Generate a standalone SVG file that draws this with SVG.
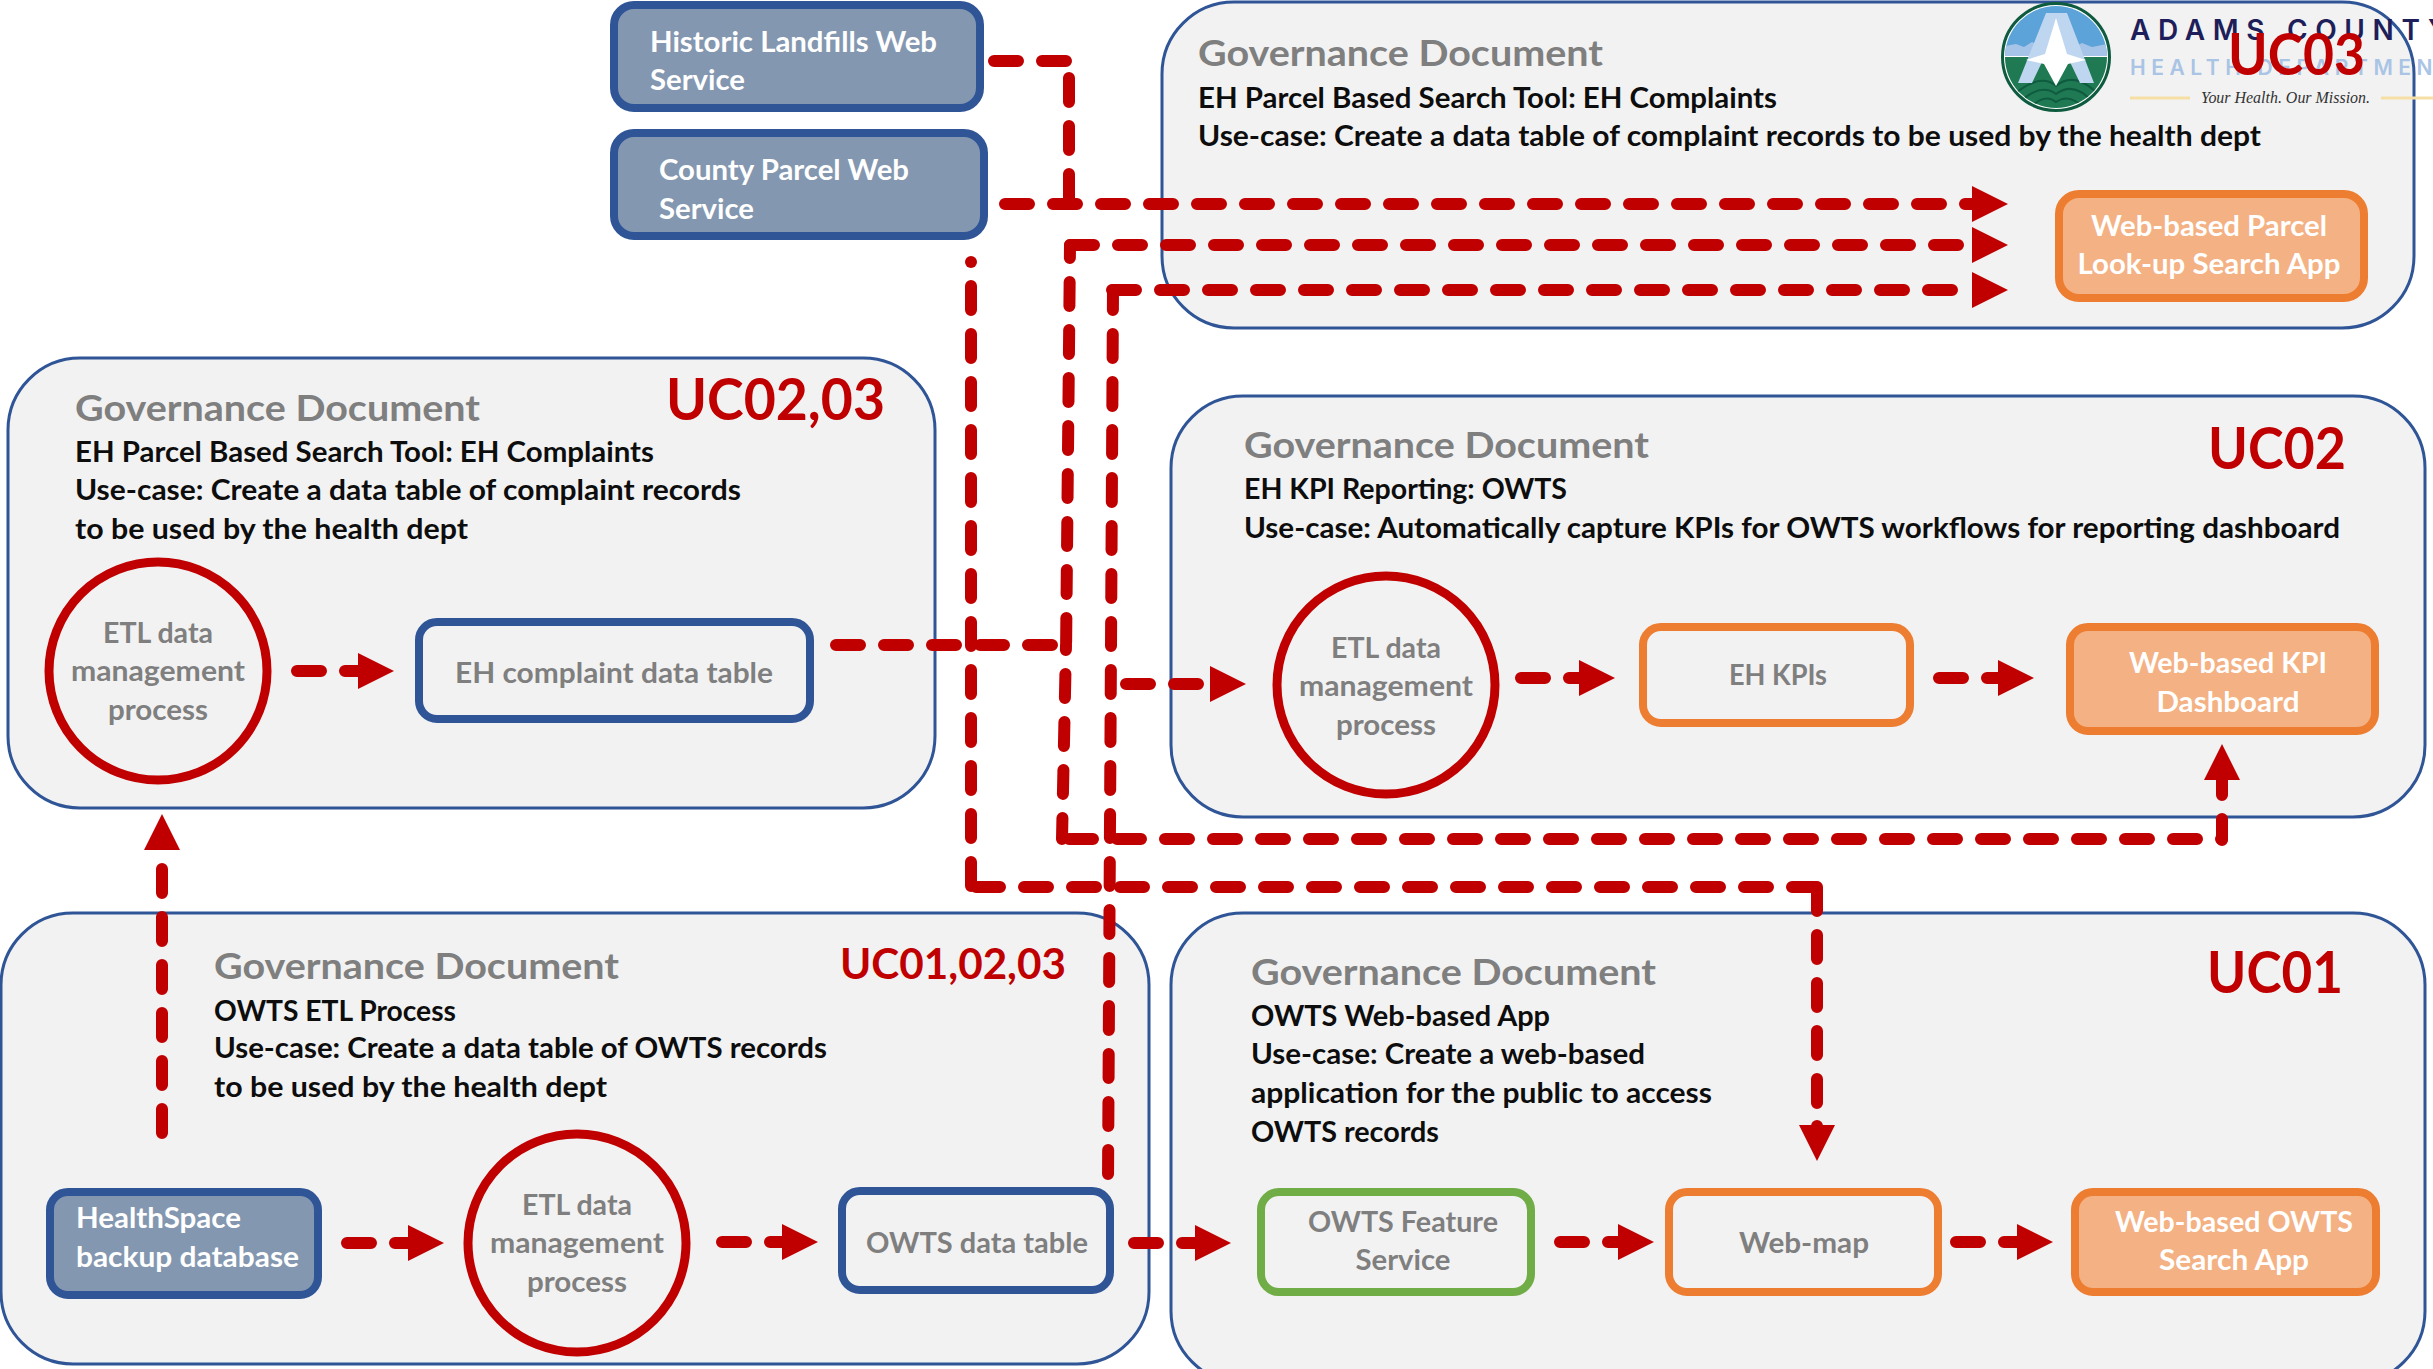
<svg xmlns="http://www.w3.org/2000/svg" width="2433" height="1369" viewBox="0 0 2433 1369">
<style>
text{font-family:Lato,"Open Sans","Liberation Sans",sans-serif;font-weight:700}
.panel{fill:#F2F2F2;stroke:#2F5597;stroke-width:3}
.h{font-size:36px;fill:#7F7F7F}
.b{font-size:28.5px;fill:#0D0D0D}
.uc{fill:#C00000}
.g{font-size:28.5px;fill:#7F7F7F;text-anchor:middle}
.w{font-size:28.5px;fill:#fff}
.wm{font-size:28.5px;fill:#fff;text-anchor:middle}
.src{fill:#8497B0;stroke:#2F5597;stroke-width:8}
.out{fill:#F4B183;stroke:#ED7D31;stroke-width:8}
.blue{fill:#F2F2F2;stroke:#2F5597;stroke-width:8}
.org{fill:#F2F2F2;stroke:#ED7D31;stroke-width:8}
.grn{fill:#F2F2F2;stroke:#70AD47;stroke-width:8}
.etl{fill:none;stroke:#C00000;stroke-width:9}
.c{fill:none;stroke:#C00000;stroke-width:12;stroke-linecap:round;stroke-linejoin:round;stroke-dasharray:24 24}
.a{marker-end:url(#arr)}
.lg{font-family:Inter,"Liberation Sans",sans-serif;font-weight:600;fill:#1E1E5A}
</style>
<defs>
<marker id="arr" markerUnits="userSpaceOnUse" markerWidth="36" markerHeight="36" viewBox="0 0 36 36" refX="0" refY="18" orient="auto"><path d="M0 0L36 18L0 36Z" fill="#C00000"/></marker>
<clipPath id="lc"><circle cx="2056" cy="57" r="51"/></clipPath>
</defs>

<g id="panel-uc03"><rect class="panel" x="1162" y="2" width="1252" height="326" rx="72"/>
<text class="h" x="1198" y="66" textLength="405" lengthAdjust="spacingAndGlyphs">Governance Document</text>
<text class="b" x="1198" y="108" textLength="579" lengthAdjust="spacingAndGlyphs">EH Parcel Based Search Tool: EH Complaints</text>
<text class="b" x="1198" y="146" textLength="1063" lengthAdjust="spacingAndGlyphs">Use-case: Create a data table of complaint records to be used by the health dept</text></g>
<g id="logo">
<circle cx="2056" cy="57" r="53.5" fill="#fff" stroke="#0F5B3F" stroke-width="3"/>
<g clip-path="url(#lc)"><rect x="2005" y="6" width="102" height="50" fill="#5BA3D9"/><path d="M2005 56V46L2016 44L2024 47L2032 42L2044 48L2056 46L2072 48L2082 43L2092 47L2107 44V56Z" fill="#A6C4E8"/><rect x="2005" y="57" width="102" height="52" fill="#1F7A54"/><path d="M2012 96Q2040 72 2056 86Q2075 70 2100 96M2018 104Q2040 82 2056 94Q2075 80 2094 104M2028 110Q2044 92 2056 102Q2070 92 2086 110" fill="none" stroke="#0F5B3F" stroke-width="2"/></g>
<path d="M2046 13H2067L2094 83H2080L2070 62H2042L2032 83H2018Z" fill="#BFD6F0"/><path d="M2056 18L2067 54L2086 60L2068 64L2056 86L2044 64L2026 60L2045 54Z" fill="#fff"/>
<text class="lg" x="2130" y="40" font-size="28" textLength="318">ADAMS COUNTY</text>
<text class="lg" x="2130" y="75" font-size="21" textLength="322" style="fill:#A9C4E4">HEALTH DEPARTMENT</text>
<path d="M2130 98H2190M2381 98H2433" stroke="#F5DFA5" stroke-width="3"/>
<text x="2201" y="103" font-size="16" textLength="169" lengthAdjust="spacingAndGlyphs" style="fill:#333;font-family:'Liberation Serif',serif;font-style:italic;font-weight:400">Your Health. Our Mission.</text>
</g>
<text class="uc" x="2228" y="75" font-size="58" textLength="137" lengthAdjust="spacingAndGlyphs">UC03</text>

<g id="panel-uc0203"><rect class="panel" x="8" y="358" width="927" height="450" rx="72"/>
<text class="h" x="75" y="421" textLength="405" lengthAdjust="spacingAndGlyphs">Governance Document</text>
<text class="b" x="75" y="462" textLength="579" lengthAdjust="spacingAndGlyphs">EH Parcel Based Search Tool: EH Complaints</text>
<text class="b" x="75" y="500" textLength="666" lengthAdjust="spacingAndGlyphs">Use-case: Create a data table of complaint records</text>
<text class="b" x="75" y="539" textLength="393" lengthAdjust="spacingAndGlyphs">to be used by the health dept</text>
<text class="uc" x="666" y="420" font-size="58" textLength="219" lengthAdjust="spacingAndGlyphs">UC02,03</text></g>
<g id="panel-uc02"><rect class="panel" x="1171" y="396" width="1254" height="421" rx="72"/>
<text class="h" x="1244" y="458" textLength="405" lengthAdjust="spacingAndGlyphs">Governance Document</text>
<text class="b" x="1244" y="499" textLength="323" lengthAdjust="spacingAndGlyphs">EH KPI Reporting: OWTS</text>
<text class="b" x="1244" y="538" textLength="1096" lengthAdjust="spacingAndGlyphs">Use-case: Automatically capture KPIs for OWTS workflows for reporting dashboard</text>
<text class="uc" x="2208" y="469" font-size="58" textLength="138" lengthAdjust="spacingAndGlyphs">UC02</text></g>
<g id="panel-uc010203"><rect class="panel" x="1" y="913" width="1148" height="451" rx="72"/>
<text class="h" x="214" y="979" textLength="405" lengthAdjust="spacingAndGlyphs">Governance Document</text>
<text class="b" x="214" y="1021" textLength="242" lengthAdjust="spacingAndGlyphs">OWTS ETL Process</text>
<text class="b" x="214" y="1058" textLength="613" lengthAdjust="spacingAndGlyphs">Use-case: Create a data table of OWTS records</text>
<text class="b" x="214" y="1097" textLength="393" lengthAdjust="spacingAndGlyphs">to be used by the health dept</text>
<text class="uc" x="840" y="979" font-size="42" textLength="226" lengthAdjust="spacingAndGlyphs">UC01,02,03</text></g>
<g id="panel-uc01"><rect class="panel" x="1171" y="913" width="1254" height="470" rx="72"/>
<text class="h" x="1251" y="985" textLength="405" lengthAdjust="spacingAndGlyphs">Governance Document</text>
<text class="b" x="1251" y="1026" textLength="299" lengthAdjust="spacingAndGlyphs">OWTS Web-based App</text>
<text class="b" x="1251" y="1064" textLength="394" lengthAdjust="spacingAndGlyphs">Use-case: Create a web-based</text>
<text class="b" x="1251" y="1103" textLength="461" lengthAdjust="spacingAndGlyphs">application for the public to access</text>
<text class="b" x="1251" y="1142" textLength="188" lengthAdjust="spacingAndGlyphs">OWTS records</text>
<text class="uc" x="2207" y="993" font-size="58" textLength="136" lengthAdjust="spacingAndGlyphs">UC01</text></g>

<g id="historic-landfills"><rect class="src" x="614" y="5" width="366" height="103" rx="20"/>
<text class="w" x="650" y="52" textLength="287" lengthAdjust="spacingAndGlyphs">Historic Landfills Web</text><text class="w" x="650" y="90" textLength="95" lengthAdjust="spacingAndGlyphs">Service</text></g>
<g id="county-parcel"><rect class="src" x="614" y="133" width="370" height="103" rx="20"/>
<text class="w" x="659" y="180" textLength="250" lengthAdjust="spacingAndGlyphs">County Parcel Web</text><text class="w" x="659" y="219" textLength="95" lengthAdjust="spacingAndGlyphs">Service</text></g>
<g id="parcel-app"><rect class="out" x="2059" y="194" width="305" height="104" rx="20"/>
<text class="wm" x="2209" y="236" textLength="236" lengthAdjust="spacingAndGlyphs">Web-based Parcel</text><text class="wm" x="2209" y="274" textLength="263" lengthAdjust="spacingAndGlyphs">Look-up Search App</text></g>

<g id="etl-uc0203"><circle class="etl" cx="158" cy="671" r="109"/>
<text class="g" x="158" y="643" textLength="110" lengthAdjust="spacingAndGlyphs">ETL data</text><text class="g" x="158" y="681" textLength="174" lengthAdjust="spacingAndGlyphs">management</text><text class="g" x="158" y="720" textLength="100" lengthAdjust="spacingAndGlyphs">process</text></g>
<g id="eh-complaint"><rect class="blue" x="419" y="622" width="391" height="97" rx="18"/>
<text class="g" x="614" y="683" textLength="318" lengthAdjust="spacingAndGlyphs">EH complaint data table</text></g>

<g id="etl-uc02"><circle class="etl" cx="1386" cy="685" r="109"/>
<text class="g" x="1386" y="658" textLength="110" lengthAdjust="spacingAndGlyphs">ETL data</text><text class="g" x="1386" y="696" textLength="174" lengthAdjust="spacingAndGlyphs">management</text><text class="g" x="1386" y="735" textLength="100" lengthAdjust="spacingAndGlyphs">process</text></g>
<g id="eh-kpis"><rect class="org" x="1643" y="627" width="267" height="96" rx="18"/>
<text class="g" x="1778" y="685" textLength="98" lengthAdjust="spacingAndGlyphs">EH KPIs</text></g>
<g id="kpi-dashboard"><rect class="out" x="2070" y="627" width="305" height="104" rx="18"/>
<text class="wm" x="2228" y="673" textLength="198" lengthAdjust="spacingAndGlyphs">Web-based KPI</text><text class="wm" x="2228" y="712" textLength="143" lengthAdjust="spacingAndGlyphs">Dashboard</text></g>

<g id="healthspace"><rect class="src" x="50" y="1192" width="268" height="103" rx="18"/>
<text class="w" x="76" y="1228" textLength="165" lengthAdjust="spacingAndGlyphs">HealthSpace</text><text class="w" x="76" y="1267" textLength="223" lengthAdjust="spacingAndGlyphs">backup database</text></g>
<g id="etl-uc010203"><circle class="etl" cx="577" cy="1243" r="109"/>
<text class="g" x="577" y="1215" textLength="110" lengthAdjust="spacingAndGlyphs">ETL data</text><text class="g" x="577" y="1253" textLength="174" lengthAdjust="spacingAndGlyphs">management</text><text class="g" x="577" y="1292" textLength="100" lengthAdjust="spacingAndGlyphs">process</text></g>
<g id="owts-table"><rect class="blue" x="842" y="1191" width="268" height="99" rx="18"/>
<text class="g" x="977" y="1253" textLength="222" lengthAdjust="spacingAndGlyphs">OWTS data table</text></g>
<g id="owts-feature"><rect class="grn" x="1261" y="1192" width="270" height="100" rx="18"/>
<text class="g" x="1403" y="1232" textLength="190" lengthAdjust="spacingAndGlyphs">OWTS Feature</text><text class="g" x="1403" y="1270" textLength="95" lengthAdjust="spacingAndGlyphs">Service</text></g>
<g id="web-map"><rect class="org" x="1669" y="1192" width="269" height="100" rx="18"/>
<text class="g" x="1804" y="1253" textLength="130" lengthAdjust="spacingAndGlyphs">Web-map</text></g>
<g id="owts-app"><rect class="out" x="2075" y="1192" width="301" height="100" rx="18"/>
<text class="wm" x="2234" y="1232" textLength="238" lengthAdjust="spacingAndGlyphs">Web-based OWTS</text><text class="wm" x="2234" y="1270" textLength="150" lengthAdjust="spacingAndGlyphs">Search App</text></g>

<g id="connectors">
<path class="c" d="M994 61H1069"/>
<path class="c" d="M1069 78V204"/>
<path class="c a" d="M1005 204H1972"/>
<path class="c" d="M1070 245L1066 655" stroke-dashoffset="11"/>
<path class="c a" d="M1070 245H1972"/>
<path class="c" d="M1066 645L1062 839" stroke-dashoffset="19"/>
<path class="c a" d="M1112 290H1972"/>
<path class="c" d="M1113 290L1108 1180" stroke-dashoffset="4"/>
<path class="c" d="M836 645H1062"/>
<circle cx="971" cy="262" r="6" fill="#C00000"/>
<path class="c" d="M971 286V887"/>
<path class="c" d="M970 887H1817" stroke-dashoffset="42"/>
<path class="c a" d="M1817 887V1125"/>
<path class="c" d="M1817 1126V1130"/>
<path class="c a" d="M1126 684H1210"/>
<path class="c" d="M1062 839H2222" stroke-dashoffset="41"/>
<path class="c a" d="M2222 840V780" stroke-dashoffset="3"/>
<path class="c a" d="M162 1133V850"/>
<path class="c a" d="M297 671H358"/>
<path class="c a" d="M347 1243H408"/>
<path class="c a" d="M722 1242H782"/>
<path class="c a" d="M1134 1243H1195"/>
<path class="c a" d="M1521 678H1579"/>
<path class="c a" d="M1939 678H1998"/>
<path class="c a" d="M1560 1242H1618"/>
<path class="c a" d="M1956 1242H2017"/>
</g>
</svg>
